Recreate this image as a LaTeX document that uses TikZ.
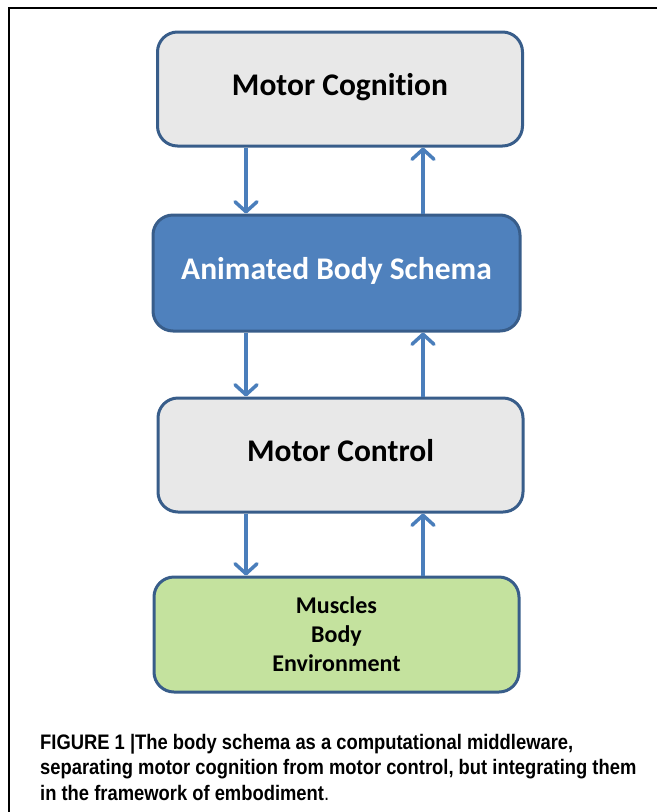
\documentclass[tikz,border=0pt]{standalone}
\usepackage{fontspec}
\setmainfont[Ligatures=NoCommon]{Carlito}
\newfontfamily\capfont[FakeStretch=0.875]{Liberation Sans}
\usetikzlibrary{arrows.meta}

\definecolor{boxline}{HTML}{385D8A}
\definecolor{arrowblue}{HTML}{4A7EBB}
\definecolor{greyfill}{HTML}{E8E8E8}
\definecolor{bluefill}{HTML}{4F81BD}
\definecolor{greenfill}{HTML}{C4E29E}

\begin{document}
\begin{tikzpicture}[x=1pt,y=-1pt,
    block/.style={draw=boxline, line width=3pt, rounded corners=20pt,
        minimum width=365pt, minimum height=114pt, align=center,
        font=\bfseries\fontsize{31.5}{36}\selectfont},
    flow/.style={draw=arrowblue, line width=3.5pt,
        -{Straight Barb[length=10pt,width=22pt,round]}}]
    \useasboundingbox (0,0) rectangle (657,812);
    % frame
    \draw[line width=1.5pt] (657,8) -- (9,8) -- (9,812);
    % boxes
    \node[block, fill=greyfill, text depth=10pt] (cog) at (340,89) {Motor Cognition};
    \node[block, fill=bluefill, text=white, text depth=10pt, minimum width=367pt, minimum height=116pt] (abs) at (336.5,273) {Animated Body Schema};
    \node[block, fill=greyfill, text depth=10pt] (ctl) at (340.5,455) {Motor Control};
    \node[block, fill=greenfill, minimum height=115pt, font=\bfseries\fontsize{24}{29}\selectfont] (env) at (336.5,634.5) {Muscles\\Body\\Environment};
    % arrows
    \coordinate (dn) at (246,0);
    \coordinate (up) at (423,0);
    \draw[flow] (cog.south -| dn) -- (abs.north -| dn);
    \draw[flow] (abs.north -| up) -- (cog.south -| up);
    \draw[flow] (abs.south -| dn) -- (ctl.north -| dn);
    \draw[flow] (ctl.north -| up) -- (abs.south -| up);
    \draw[flow] (ctl.south -| dn) -- (env.north -| dn);
    \draw[flow] (env.north -| up) -- (ctl.south -| up);
    % caption
    \node[anchor=north west, inner sep=0pt, align=left,
        font=\capfont\bfseries\fontsize{21}{25.5}\selectfont] (cap) at (40,734)
        {FIGURE 1 |The body schema as a computational middleware,\\
         separating motor cognition from motor control, but integrating them\\
         in the framework of embodiment{\mdseries .}};
\end{tikzpicture}
\end{document}
